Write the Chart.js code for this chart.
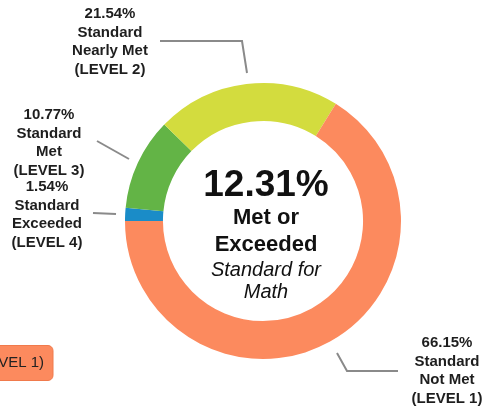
<!DOCTYPE html>
<html>
<head>
<meta charset="utf-8">
<script src="https://cdn.jsdelivr.net/npm/chart.js@4/dist/chart.umd.min.js"></script>
<style>
  html, body { margin: 0; padding: 0; background: #fff; }
  #wrap { width: 484px; height: 407px; position: relative; }
</style>
</head>
<body>
<div id="wrap"><canvas id="canvas" width="484" height="407"></canvas></div>
<script>
// chart data
const categories = ["Standard Exceeded", "Standard Met", "Standard Nearly Met", "Standard Not Met"];
const levels = ["(LEVEL 4)", "(LEVEL 3)", "(LEVEL 2)", "(LEVEL 1)"];
const percentages = [1.54, 10.77, 21.54, 66.15];
const sliceColors = ["#1a8cc8", "#63b446", "#d3dc3e", "#fc8a5e"];
const centerValue = "12.31%";
const centerLines = ["Met or", "Exceeded"];
const centerSub = ["Standard for", "Math"];

// where each outside label sits, and its leader line
const labelSpots = [
    { x: 47, y: 187, line: [[93, 213], [116, 214]] },
    { x: 49, y: 115, line: [[97, 141], [129, 159]] },
    { x: 110, y: 14, line: [[160, 41], [242, 41], [247, 73]] },
    { x: 447, y: 343, line: [[337, 353], [347, 371], [398, 371]] }
];

const splitName = (name) => {
    let parts = name.split(" ");
    return [parts[0], parts.slice(1).join(" ")];
};

const ksLabels = {
    id: "ksLabels",
    afterDraw(chart) {
        const ctx = chart.ctx;
        ctx.save();
        // leader lines
        ctx.strokeStyle = "#8a8a8a";
        ctx.lineWidth = 2;
        labelSpots.forEach((s) => {
            ctx.beginPath();
            ctx.moveTo(s.line[0][0], s.line[0][1]);
            for (let i = 1; i < s.line.length; i++) ctx.lineTo(s.line[i][0], s.line[i][1]);
            ctx.stroke();
        });
        // outside labels
        ctx.fillStyle = "#1e1e1e";
        ctx.textAlign = "center";
        ctx.textBaseline = "middle";
        ctx.font = "bold 15px 'Liberation Sans', Arial, sans-serif";
        labelSpots.forEach((s, i) => {
            let txt = [percentages[i].toFixed(2) + "%"].concat(splitName(categories[i])).concat([levels[i]]);
            txt.forEach((t, j) => ctx.fillText(t, s.x, s.y + j * 18.5));
        });

        // centre text
        let cx = 266;
        ctx.fillStyle = "#111";
        ctx.font = "bold 37px 'Liberation Sans', Arial, sans-serif";
        ctx.fillText(centerValue, cx, 186);
        ctx.font = "bold 22px 'Liberation Sans', Arial, sans-serif";
        ctx.fillText(centerLines[0], cx, 218);
        ctx.fillText(centerLines[1], cx, 245);
        ctx.font = "italic 20px 'Liberation Sans', Arial, sans-serif";
        ctx.fillText(centerSub[0], cx, 270);
        ctx.fillText(centerSub[1], cx, 292);

        // clipped hover box on the left
        ctx.fillStyle = sliceColors[3];
        ctx.strokeStyle = "#f07a4c";
        ctx.lineWidth = 1;
        ctx.beginPath();
        ctx.roundRect(-80, 345.5, 133, 35, 5);
        ctx.fill();
        ctx.stroke();
        ctx.fillStyle = "#222";
        ctx.textAlign = "right";
        ctx.font = "15px 'Liberation Sans', Arial, sans-serif";
        ctx.fillText(levels[3], 44, 363);
        ctx.restore();
    }
};

let c = document.getElementById("canvas").getContext("2d");
let myChart = new Chart(c, {
    type: "doughnut",
    data: {
        labels: categories,
        datasets: [{
            data: percentages,
            backgroundColor: sliceColors,
            borderWidth: 0
        }]
    },
    options: {
        responsive: false,
        animation: false,
        rotation: -90,
        cutout: "72.5%",
        layout: { padding: { left: 125, right: 83, top: 83, bottom: 48 } },
        plugins: {
            legend: { display: false },
            tooltip: { enabled: false }
        }
    },
    plugins: [ksLabels]
});
</script>
</body>
</html>
